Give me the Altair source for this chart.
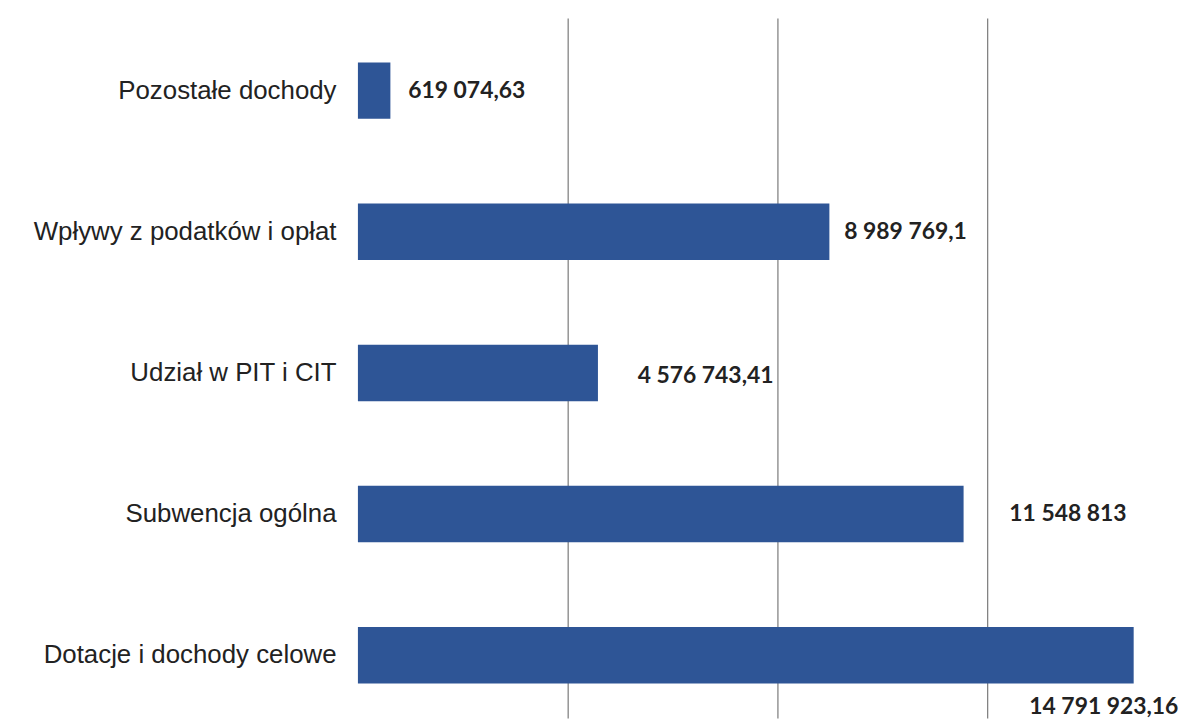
import altair as alt
import pandas as pd

categories = [
    "Pozostałe dochody",
    "Wpływy z podatków i opłat",
    "Udział w PIT i CIT",
    "Subwencja ogólna",
    "Dotacje i dochody celowe",
]
values = [619074.63, 8989769.1, 4576743.41, 11548813, 14791923.16]
value_labels = ["619 074,63", "8 989 769,1", "4 576 743,41", "11 548 813", "14 791 923,16"]
grid_values = [4000000, 8000000, 12000000]

df = pd.DataFrame({"cat": categories, "val": values, "lab": value_labels})

# label placement (pixel offsets from bar end), styling only
label_offsets = [(18, 0), (15, 0), (40, 3), (46, 0), (-105, 52)]

x_scale = alt.Scale(domain=[0, 15600000], nice=False, zero=True)
y_scale = alt.Scale(paddingInner=0.6, paddingOuter=0.279, align=0.563)

y_enc = alt.Y(
    "cat:N",
    sort=categories,
    scale=y_scale,
    axis=alt.Axis(
        title=None, domain=False, ticks=False, labelPadding=22,
        labelFont="Liberation Sans", labelFontSize=26, labelColor="#222222",
        labelLimit=400,
    ),
)
x_enc = alt.X(
    "val:Q",
    scale=x_scale,
    axis=alt.Axis(
        title=None, labels=False, ticks=False, domain=False, grid=True,
        values=grid_values, gridColor="#7a7a7a", gridWidth=1.2,
    ),
)

bars = alt.Chart(df).mark_bar(color="#2E5596").encode(x=x_enc, y=y_enc)

layers = [bars]
for cat, (dx, dy) in zip(categories, label_offsets):
    layers.append(
        alt.Chart(df)
        .transform_filter(alt.datum.cat == cat)
        .mark_text(
            align="left", baseline="middle", dx=dx, dy=dy,
            font="Lato", fontSize=23, fontWeight="bold", color="#222222",
        )
        .encode(x=alt.X("val:Q"), y=alt.Y("cat:N", sort=categories), text="lab:N")
    )

chart = (
    alt.layer(*layers)
    .properties(
        width=823,
        height=704,
        padding={"left": 352, "top": 8, "right": 9, "bottom": 0},
        autosize=alt.AutoSizeParams(type="none"),
        background="white",
    )
    .configure_view(stroke=None)
)

chart.save("out.html", embed_options={"renderer": "svg", "actions": False})
